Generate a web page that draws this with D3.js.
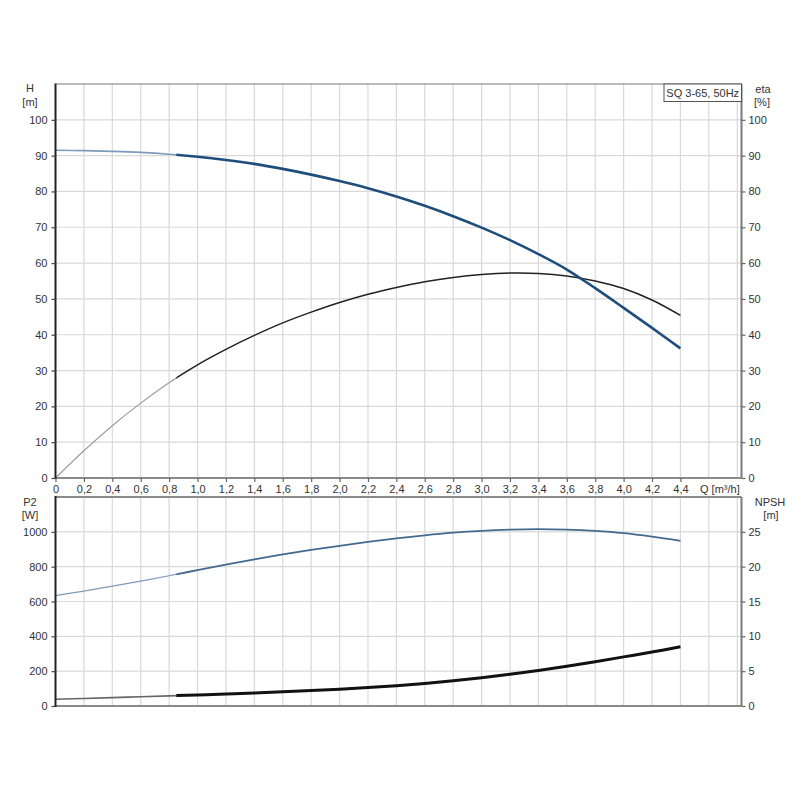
<!DOCTYPE html>
<html><head><meta charset="utf-8">
<script src="https://cdn.jsdelivr.net/npm/d3@7"></script>
<style>
body{margin:0;background:#fff}
text{font-family:"Liberation Sans",Arial,sans-serif;font-size:11px;fill:#333}
</style></head>
<body><svg id="c" width="800" height="800"></svg>
<script>
// ---- data ----
const flow = [0,0.2,0.4,0.6,0.8,1.0,1.2,1.4,1.6,1.8,2.0,2.2,2.4,2.6,2.8,3.0,3.2,3.4,3.6,3.8,4.0,4.2,4.4];
const head = [91.5,91.4,91.2,90.9,90.4,89.7,88.8,87.7,86.3,84.7,82.9,80.9,78.6,76.0,73.1,69.9,66.4,62.5,58.2,53.0,47.5,41.9,36.2];
const eta  = [0,7.6,14.6,20.9,26.6,31.6,35.9,39.8,43.3,46.3,49.0,51.3,53.2,54.8,56.0,56.8,57.2,57.1,56.4,55.0,52.9,49.7,45.4];
const p2   = [634,660,688,717,748,780,812,842,870,896,920,942,962,980,995,1006,1013,1016,1013,1005,992,972,948];
const npsh = [0.96,1.08,1.2,1.33,1.46,1.59,1.73,1.88,2.04,2.22,2.42,2.65,2.92,3.24,3.62,4.06,4.56,5.1,5.7,6.35,7.05,7.75,8.5];
const xTicks = [0,0.2,0.4,0.6,0.8,1.0,1.2,1.4,1.6,1.8,2.0,2.2,2.4,2.6,2.8,3.0,3.2,3.4,3.6,3.8,4.0,4.2,4.4];
const xGrid = [0.2,0.4,0.6,0.8,1.0,1.2,1.4,1.6,1.8,2.0,2.2,2.4,2.6,2.8,3.0,3.2,3.4,3.6,3.8,4.0,4.2,4.4,4.6,4.8];
const hTicks = [0,10,20,30,40,50,60,70,80,90,100];
const p2Ticks = [0,200,400,600,800,1000];
const npshTicks = [0,5,10,15,20,25];
const dutyStart = 0.85;
const title = "SQ 3-65, 50Hz";

// ---- layout ----
const L = 55.5, R = 741.5;
const topT = 84, topB = 478, botT = 497, botB = 706;

const svg = d3.select("#c");
const x = d3.scaleLinear().domain([0, 4.83]).range([L, R]);
const yH = d3.scaleLinear().domain([0, 110]).range([topB, topT]);
const yEta = d3.scaleLinear().domain([0, 110]).range([topB, topT]);
const yP = d3.scaleLinear().domain([0, 1200]).range([botB, botT]);
const yN = d3.scaleLinear().domain([0, 30]).range([botB, botT]);

const gridCol = "#d9d9d9";
[[topT, topB], [botT, botB]].forEach(([t, b]) => {
  svg.append("g").selectAll("line").data(xGrid).join("line")
    .attr("x1", d => x(d)).attr("x2", d => x(d)).attr("y1", t).attr("y2", b)
    .attr("stroke", gridCol).attr("stroke-width", 1.2);
});
svg.append("g").selectAll("line").data(hTicks.slice(1)).join("line")
  .attr("x1", L).attr("x2", R).attr("y1", d => yH(d)).attr("y2", d => yH(d))
  .attr("stroke", gridCol).attr("stroke-width", 1.2);
svg.append("g").selectAll("line").data(p2Ticks.slice(1)).join("line")
  .attr("x1", L).attr("x2", R).attr("y1", d => yP(d)).attr("y2", d => yP(d))
  .attr("stroke", gridCol).attr("stroke-width", 1.2);

const defs = svg.append("defs");
function clip(id, x0, x1, t, b) {
  defs.append("clipPath").attr("id", id).append("rect")
    .attr("x", x0).attr("y", t - 5).attr("width", x1 - x0).attr("height", b - t + 10);
}
clip("tA", L - 2, x(dutyStart), topT, topB);
clip("tB", x(dutyStart), R, topT, topB);
clip("bA", L - 2, x(dutyStart), botT, botB);
clip("bB", x(dutyStart), R, botT, botB);

function curve(vals, ys, panel, thin, full) {
  const line = d3.line().x((d, i) => x(flow[i])).y(d => ys(d)).curve(d3.curveCatmullRom.alpha(0.5));
  svg.append("path").attr("d", line(vals)).attr("fill", "none")
    .attr("clip-path", `url(#${panel}A)`).attr("stroke", thin[0]).attr("stroke-width", thin[1]);
  svg.append("path").attr("d", line(vals)).attr("fill", "none")
    .attr("clip-path", `url(#${panel}B)`).attr("stroke", full[0]).attr("stroke-width", full[1]);
}
curve(eta, yEta, "t", ["#9a9a9a", 1.1], ["#222", 1.5]);
curve(head, yH, "t", ["#7d9cbd", 1.6], ["#1f4e7d", 2.6]);
curve(p2, yP, "b", ["#7f9bb8", 1.2], ["#44698f", 1.8]);
curve(npsh, yN, "b", ["#666", 1.6], ["#111", 3]);

const frame = (x1, y1, x2, y2, c, w) => svg.append("line")
  .attr("x1", x1).attr("y1", y1).attr("x2", x2).attr("y2", y2).attr("stroke", c).attr("stroke-width", w);
frame(L, topT, R, topT, "#777", 1);
frame(L, topB, R, topB, "#8a8a8a", 2);
frame(R, topT, R, topB, "#7a7a7a", 2);
frame(L, topT - 0.5, L, topB + 1, "#222", 2);
frame(L, botT, R, botT, "#8a8a8a", 2);
frame(L, botB, R, botB, "#8a8a8a", 2);
frame(R, botT, R, botB, "#7a7a7a", 2);
frame(L, botT - 1, L, botB + 1, "#222", 2);

const fmtQ = d => d === 0 ? "0" : d3.format(".1f")(d).replace(".", ",");
const fmtInt = d3.format("d");
function styleAxis(g, tickColor) {
  g.select(".domain").remove();
  g.selectAll(".tick line").attr("stroke", tickColor).attr("stroke-width", 1.2);
  g.selectAll(".tick text").attr("fill", "#333").style("font-size", "11px")
    .style("font-family", '"Liberation Sans", Arial, sans-serif');
}
svg.append("g").attr("transform", `translate(0,${topB})`)
  .call(d3.axisBottom(x).tickValues(xTicks).tickFormat(fmtQ).tickSize(4).tickPadding(3))
  .call(g => styleAxis(g, "#666"));
svg.append("g").attr("transform", `translate(${L},0)`)
  .call(d3.axisLeft(yH).tickValues(hTicks).tickFormat(fmtInt).tickSize(4).tickPadding(4))
  .call(g => styleAxis(g, "#444"));
svg.append("g").attr("transform", `translate(${R},0)`)
  .call(d3.axisRight(yEta).tickValues(hTicks).tickFormat(fmtInt).tickSize(4).tickPadding(3))
  .call(g => styleAxis(g, "#666"));
svg.append("g").attr("transform", `translate(${L},0)`)
  .call(d3.axisLeft(yP).tickValues(p2Ticks).tickFormat(fmtInt).tickSize(4).tickPadding(4))
  .call(g => styleAxis(g, "#444"));
svg.append("g").attr("transform", `translate(${R},0)`)
  .call(d3.axisRight(yN).tickValues(npshTicks).tickFormat(fmtInt).tickSize(4).tickPadding(3))
  .call(g => styleAxis(g, "#666"));

const label = (tx, ty, s, anchor = "middle") => svg.append("text")
  .attr("x", tx).attr("y", ty).attr("text-anchor", anchor).text(s);
label(30, 92, "H"); label(30, 106, "[m]");
label(763, 93, "eta"); label(762, 106, "[%]");
label(30, 506, "P2"); label(30, 519, "[W]");
label(770, 506, "NPSH"); label(771, 519, "[m]");
label(700, 492.5, "Q [m³/h]", "start");

const tw = 77.5;
svg.append("rect").attr("x", R - tw).attr("y", topT).attr("width", tw).attr("height", 17.5)
  .attr("fill", "#fff").attr("stroke", "#555").attr("stroke-width", 1);
label(R - tw / 2, topT + 12.5, title);
</script></body></html>
